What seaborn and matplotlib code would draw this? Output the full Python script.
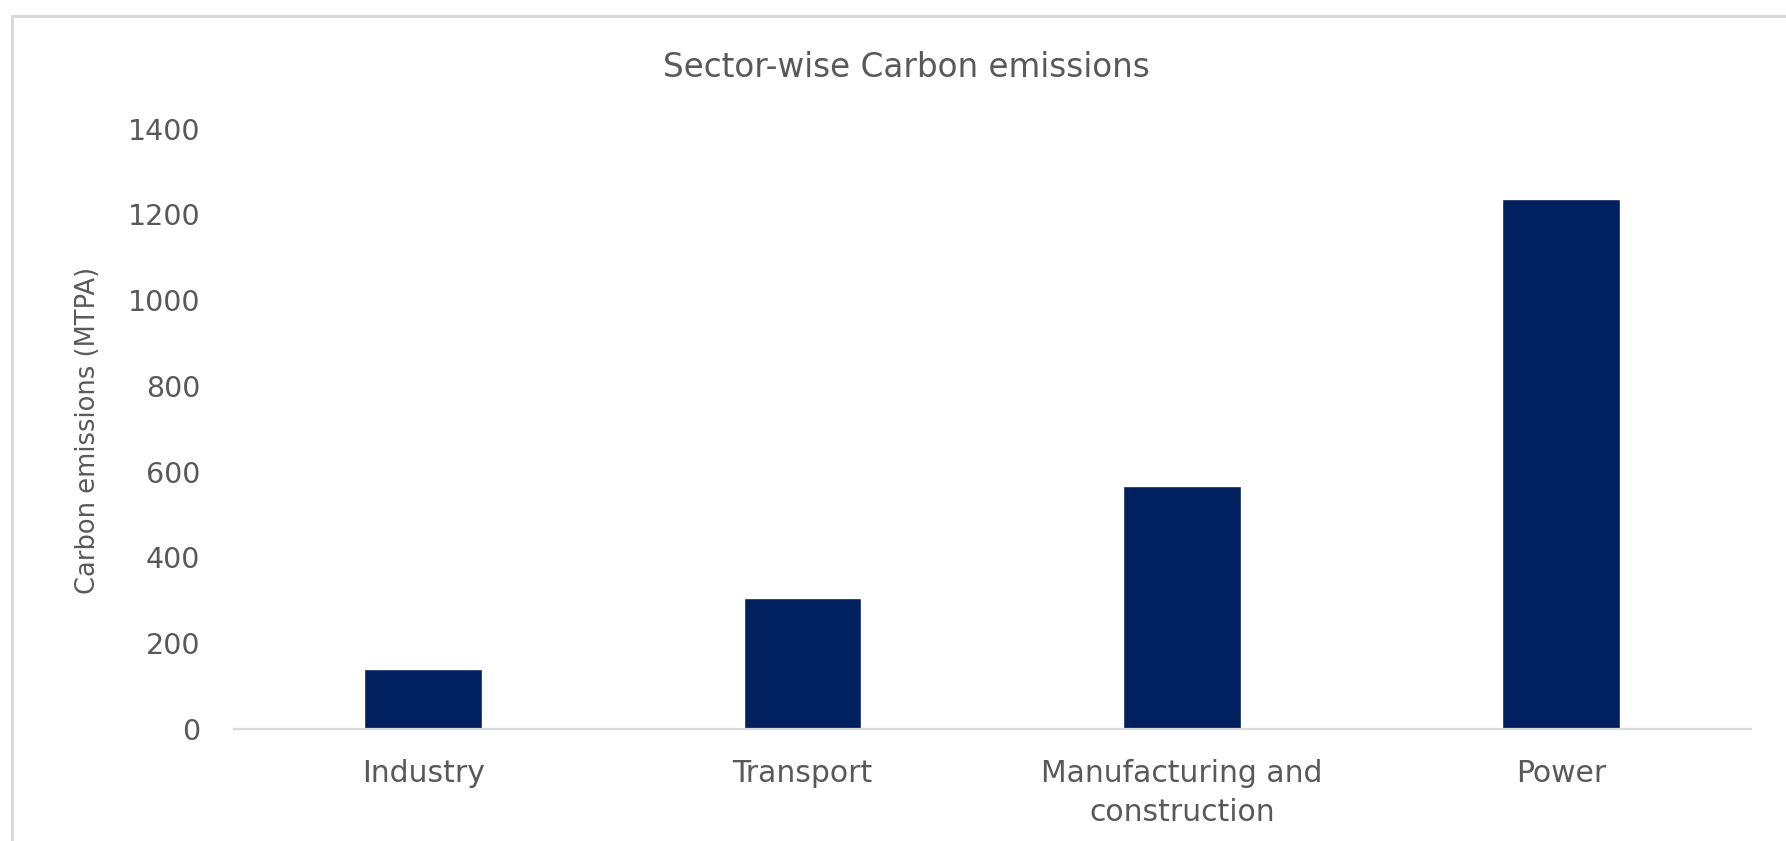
import matplotlib
matplotlib.use("Agg")
import matplotlib.pyplot as plt
import seaborn as sns
import pandas as pd
from matplotlib.patches import Rectangle

# ---- data ----
sectors = ["Industry", "Transport", "Manufacturing and\nconstruction", "Power"]
emissions = [141, 305, 566, 1235]
y_ticks = [0, 200, 400, 600, 800, 1000, 1200, 1400]
title = "Sector-wise Carbon emissions"
y_label = "Carbon emissions (MTPA)"

sns.set_theme(style="white")
plt.rcParams["font.family"] = ["DejaVu Sans"]

TEXT = "#595959"
BAR = "#002060"
LINE = "#D9D9D9"

W, H = 1786, 841
fig = plt.figure(figsize=(W / 100, H / 100), dpi=100)
fig.patch.set_facecolor("white")

# axes placement in pixels
left, right, top, bottom = 233.5, 1750.7, 128.7, 729.0
ax = fig.add_axes([left / W, 1 - bottom / H, (right - left) / W, (bottom - top) / H])

df = pd.DataFrame({"sector": sectors, "emissions": emissions})
sns.barplot(data=df, x="sector", y="emissions", color=BAR, width=0.31,
            saturation=1, ax=ax, errorbar=None)

ax.set_xlim(-0.5, len(sectors) - 0.5)
ax.set_ylim(0, 1400)
ax.set_yticks(y_ticks)
ax.set_yticklabels([str(v) for v in y_ticks])
ax.set_xlabel("")
ax.set_ylabel("")

for s in ["top", "right", "left"]:
    ax.spines[s].set_visible(False)
ax.spines["bottom"].set_color(LINE)
ax.spines["bottom"].set_linewidth(1.6)
ax.grid(False)

ax.tick_params(axis="y", length=0, pad=24, labelsize=20.5, labelcolor=TEXT)
ax.tick_params(axis="x", length=0, pad=21.5, labelsize=21.5, labelcolor=TEXT)
for lab in ax.get_xticklabels():
    lab.set_linespacing(1.42)

fig.text(906 / W, 1 - 76.7 / H, title, ha="center", va="baseline", fontsize=23.5, color=TEXT)
fig.text(88 / W, 1 - 430 / H, y_label, ha="center", va="center", rotation=90,
         fontsize=18.5, color=TEXT)

# outer chart border (light grey), running off the right and bottom edges
fig.patches.append(Rectangle((12 / W, -0.05), 1.2, 1 - 16 / H + 0.05,
                             transform=fig.transFigure, fill=False,
                             edgecolor=LINE, linewidth=2.2))

fig.savefig("out.png", dpi=100, facecolor="white")
